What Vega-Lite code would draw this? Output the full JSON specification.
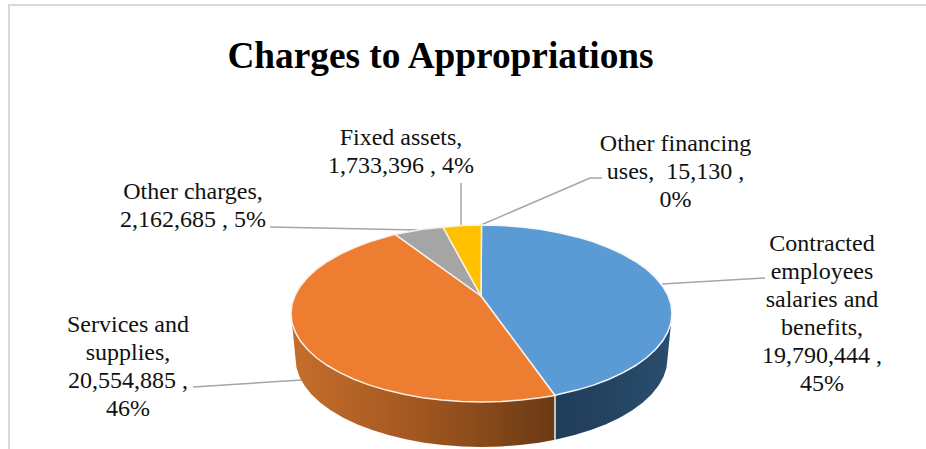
{"$schema":"https://vega.github.io/schema/vega-lite/v6.json","autosize":{"type":"none"},"width":926,"height":449,"padding":0,"background":"white","config":{"view":{"stroke":null}},
"datasets":{
"blue":[{"i":0,"x":481,"y":296},{"i":1,"x":481.5,"y":225},{"i":2,"x":501.4,"y":225.5},{"i":3,"x":521.1,"y":226.9},{"i":4,"x":540.4,"y":229.3},{"i":5,"x":559,"y":232.7},{"i":6,"x":576.75,"y":236.9},{"i":7,"x":593.5,"y":241.9},{"i":8,"x":609,"y":247.7},{"i":9,"x":623.1,"y":254.3},{"i":10,"x":635.6,"y":261.5},{"i":11,"x":646.5,"y":269.25},{"i":12,"x":655.5,"y":277.5},{"i":13,"x":662.7,"y":286.2},{"i":14,"x":667.8,"y":295.1},{"i":15,"x":671,"y":304.25},{"i":16,"x":672,"y":313.5},{"i":17,"x":671,"y":322.75},{"i":18,"x":667.8,"y":331.9},{"i":19,"x":662.7,"y":340.8},{"i":20,"x":655.5,"y":349.5},{"i":21,"x":646.5,"y":357.75},{"i":22,"x":635.6,"y":365.5},{"i":23,"x":623.1,"y":372.7},{"i":24,"x":609,"y":379.3},{"i":25,"x":593.5,"y":385.1},{"i":26,"x":576.75,"y":390.1},{"i":27,"x":559,"y":394.3},{"i":28,"x":555,"y":395.5}],
"orange":[{"i":0,"x":481,"y":296},{"i":1,"x":555,"y":395.5},{"i":2,"x":540.4,"y":397.7},{"i":3,"x":521.1,"y":400.1},{"i":4,"x":501.4,"y":401.5},{"i":5,"x":481.5,"y":402},{"i":6,"x":461.6,"y":401.5},{"i":7,"x":441.9,"y":400.1},{"i":8,"x":422.6,"y":397.7},{"i":9,"x":404,"y":394.3},{"i":10,"x":386.25,"y":390.1},{"i":11,"x":369.5,"y":385.1},{"i":12,"x":354,"y":379.3},{"i":13,"x":339.9,"y":372.7},{"i":14,"x":327.4,"y":365.5},{"i":15,"x":316.5,"y":357.75},{"i":16,"x":307.5,"y":349.5},{"i":17,"x":300.3,"y":340.8},{"i":18,"x":295.2,"y":331.9},{"i":19,"x":292,"y":322.75},{"i":20,"x":291,"y":313.5},{"i":21,"x":292,"y":304.25},{"i":22,"x":295.2,"y":295.1},{"i":23,"x":300.3,"y":286.2},{"i":24,"x":307.5,"y":277.5},{"i":25,"x":316.5,"y":269.25},{"i":26,"x":327.4,"y":261.5},{"i":27,"x":339.9,"y":254.3},{"i":28,"x":354,"y":247.7},{"i":29,"x":369.5,"y":241.9},{"i":30,"x":386.25,"y":236.9},{"i":31,"x":395,"y":234.3}],
"gray":[{"i":0,"x":481,"y":296},{"i":1,"x":395,"y":234.3},{"i":2,"x":404,"y":232.7},{"i":3,"x":422.6,"y":229.3},{"i":4,"x":443,"y":227.2}],
"yellow":[{"i":0,"x":481,"y":296},{"i":1,"x":443,"y":227.2},{"i":2,"x":461.6,"y":225.5},{"i":3,"x":481.5,"y":225}],
"wallBlue":[{"i":0,"x":555,"y":395.5},{"i":1,"x":672,"y":313.5},{"i":2,"x":667.5,"y":358.5},{"i":3,"x":666.5,"y":367.75},{"i":4,"x":663.4,"y":376.9},{"i":5,"x":658.4,"y":385.8},{"i":6,"x":651.4,"y":394.5},{"i":7,"x":642.6,"y":402.75},{"i":8,"x":632,"y":410.5},{"i":9,"x":619.7,"y":417.7},{"i":10,"x":606,"y":424.3},{"i":11,"x":590.8,"y":430.1},{"i":12,"x":574.5,"y":435.1},{"i":13,"x":557.2,"y":439.3},{"i":14,"x":555,"y":439.8}],
"wallOrange":[{"i":0,"x":555,"y":395.5},{"i":1,"x":555,"y":439.8},{"i":2,"x":539,"y":442.7},{"i":3,"x":520.2,"y":445.1},{"i":4,"x":500.9,"y":446.5},{"i":5,"x":481.5,"y":447},{"i":6,"x":462.1,"y":446.5},{"i":7,"x":442.8,"y":445.1},{"i":8,"x":424,"y":442.7},{"i":9,"x":405.8,"y":439.3},{"i":10,"x":388.5,"y":435.1},{"i":11,"x":372.2,"y":430.1},{"i":12,"x":357,"y":424.3},{"i":13,"x":343.3,"y":417.7},{"i":14,"x":331,"y":410.5},{"i":15,"x":320.4,"y":402.75},{"i":16,"x":311.6,"y":394.5},{"i":17,"x":304.6,"y":385.8},{"i":18,"x":299.6,"y":376.9},{"i":19,"x":296.5,"y":367.75},{"i":20,"x":295.5,"y":358.5},{"i":21,"x":291,"y":313.5}],
"leaders":[{"k":"blue","i":0,"x":662,"y":284},{"k":"blue","i":1,"x":765,"y":278},{"k":"orange","i":0,"x":193,"y":387},{"k":"orange","i":1,"x":302,"y":380},{"k":"gray","i":0,"x":270,"y":227},{"k":"gray","i":1,"x":418,"y":230},{"k":"yellow","i":0,"x":461,"y":183},{"k":"yellow","i":1,"x":461,"y":226},{"k":"other","i":0,"x":602,"y":178},{"k":"other","i":1,"x":590,"y":178},{"k":"other","i":2,"x":481,"y":225}],
"frame":[{"i":0,"x":9,"y":449},{"i":1,"x":9,"y":5},{"i":2,"x":926,"y":5}],
"labels":[{"x":822,"y":232,"t":"Contracted\nemployees\nsalaries and\nbenefits,\n19,790,444 ,\n45%"},{"x":128,"y":313,"t":"Services and\nsupplies,\n20,554,885 ,\n46%"},{"x":193,"y":180,"t":"Other charges,\n2,162,685 , 5%"},{"x":401,"y":126,"t":"Fixed assets,\n1,733,396 , 4%"},{"x":675.5,"y":132,"t":"Other financing\nuses,\u00a0 15,130 ,\n0%"}],
"title":[{"x":440.5,"y":57,"t":"Charges to Appropriations"}]
},
"encoding":{"x":{"field":"x","type":"quantitative","axis":null,"scale":{"domain":[0,926]}},"y":{"field":"y","type":"quantitative","axis":null,"scale":{"domain":[0,449],"reverse":true}}},
"layer":[
{"data":{"name":"frame"},"mark":{"type":"line","stroke":"#D9D9D9","strokeWidth":2},"encoding":{"order":{"field":"i"}}},
{"data":{"name":"leaders"},"mark":{"type":"line","stroke":"#A5A5A5","strokeWidth":1.5},"encoding":{"order":{"field":"i"},"detail":{"field":"k"}}},
{"data":{"name":"wallOrange"},"mark":{"type":"line","filled":true,"interpolate":"linear-closed","strokeWidth":0,"fill":{"gradient":"linear","x1":0,"x2":1,"y1":0,"y2":0,"stops":[{"offset":0,"color":"#C66E2C"},{"offset":0.5,"color":"#A0561F"},{"offset":1,"color":"#6A3A14"}]}},"encoding":{"order":{"field":"i"}}},
{"data":{"name":"wallBlue"},"mark":{"type":"line","filled":true,"interpolate":"linear-closed","strokeWidth":0,"fill":{"gradient":"linear","x1":0,"x2":1,"y1":0,"y2":0,"stops":[{"offset":0,"color":"#1F3C58"},{"offset":1,"color":"#2B4D6E"}]}},"encoding":{"order":{"field":"i"}}},
{"data":{"values":[{"i":0,"x":555,"y":396},{"i":1,"x":555,"y":440}]},"mark":{"type":"line","stroke":"#F3EFEA","strokeWidth":1.5},"encoding":{"order":{"field":"i"}}},
{"data":{"name":"blue"},"mark":{"type":"line","filled":true,"interpolate":"linear-closed","fill":"#5B9BD5","stroke":"#F4F7FA","strokeWidth":1.5},"encoding":{"order":{"field":"i"}}},
{"data":{"name":"orange"},"mark":{"type":"line","filled":true,"interpolate":"linear-closed","fill":"#ED7D31","stroke":"#FAEFE6","strokeWidth":1.5},"encoding":{"order":{"field":"i"}}},
{"data":{"name":"gray"},"mark":{"type":"line","filled":true,"interpolate":"linear-closed","fill":"#A5A5A5","stroke":"#F5F0EA","strokeWidth":1.5},"encoding":{"order":{"field":"i"}}},
{"data":{"name":"yellow"},"mark":{"type":"line","filled":true,"interpolate":"linear-closed","fill":"#FFC000","stroke":"#FBF3DC","strokeWidth":1.5},"encoding":{"order":{"field":"i"}}},
{"data":{"name":"labels"},"mark":{"type":"text","font":"Liberation Serif","fontSize":24,"lineBreak":"\n","lineHeight":28,"align":"center","baseline":"top","color":"#111111"},"encoding":{"text":{"field":"t"}}},
{"data":{"name":"title"},"mark":{"type":"text","font":"Liberation Serif","fontSize":37.3,"fontWeight":"bold","align":"center","baseline":"middle","color":"#000000"},"encoding":{"text":{"field":"t"}}}
]}
